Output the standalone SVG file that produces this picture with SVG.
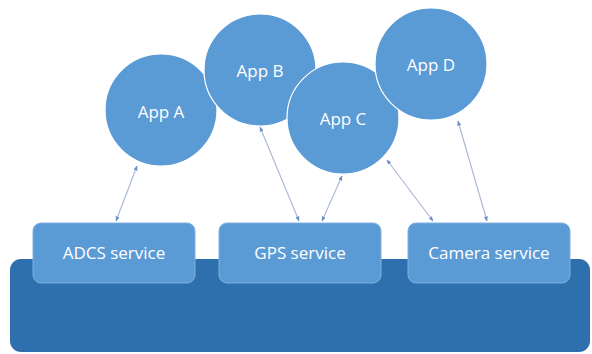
<svg xmlns="http://www.w3.org/2000/svg" width="592" height="354" viewBox="0 0 592 354">
<defs>
<style>
.app{fill:#5b9bd5;stroke:#ffffff;stroke-width:1.2}
.svc{fill:#5b9bd5;stroke:#7fb0de;stroke-width:1}
.lbl{font-family:"Open Sans","Liberation Sans",sans-serif;font-size:17px;fill:#ffffff;text-anchor:middle}
.con{stroke:#a7b7d4;stroke-width:1.1;fill:none;marker-start:url(#ah);marker-end:url(#ah)}
</style>
<marker id="ah" viewBox="0 0 10 10" refX="9" refY="5" markerWidth="5" markerHeight="5" orient="auto-start-reverse" markerUnits="userSpaceOnUse">
<path d="M0,1 L10,5 L0,9 z" fill="#6b8cc4"/>
</marker>
</defs>
<rect width="592" height="354" fill="#ffffff"/>
<g id="platform">
<rect x="10" y="259" width="580" height="93" rx="11" fill="#2e6fad"/>
</g>
<g id="adcs">
<rect class="svc" x="33" y="223" width="162" height="60" rx="8"/>
<text class="lbl" x="114" y="259">ADCS service</text>
</g>
<g id="gps">
<rect class="svc" x="219" y="223" width="162" height="60" rx="8"/>
<text class="lbl" x="300" y="259">GPS service</text>
</g>
<g id="camera">
<rect class="svc" x="408" y="223" width="162" height="60" rx="8"/>
<text class="lbl" x="489" y="259">Camera service</text>
</g>
<g id="appA">
<circle class="app" cx="161" cy="110" r="56"/>
<text class="lbl" x="161" y="118">App A</text>
</g>
<g id="appB">
<circle class="app" cx="260" cy="70" r="56"/>
<text class="lbl" x="260" y="77">App B</text>
</g>
<g id="appC">
<circle class="app" cx="343" cy="118" r="56"/>
<text class="lbl" x="343" y="125">App C</text>
</g>
<g id="appD">
<circle class="app" cx="431" cy="64" r="56"/>
<text class="lbl" x="431" y="71">App D</text>
</g>
<g id="connectors">
<line class="con" x1="116" y1="221" x2="137" y2="166"/>
<line class="con" x1="299" y1="221" x2="260" y2="127"/>
<line class="con" x1="322" y1="221" x2="342" y2="176"/>
<line class="con" x1="433" y1="221" x2="387" y2="160"/>
<line class="con" x1="487" y1="221" x2="458" y2="121"/>
</g>
</svg>
